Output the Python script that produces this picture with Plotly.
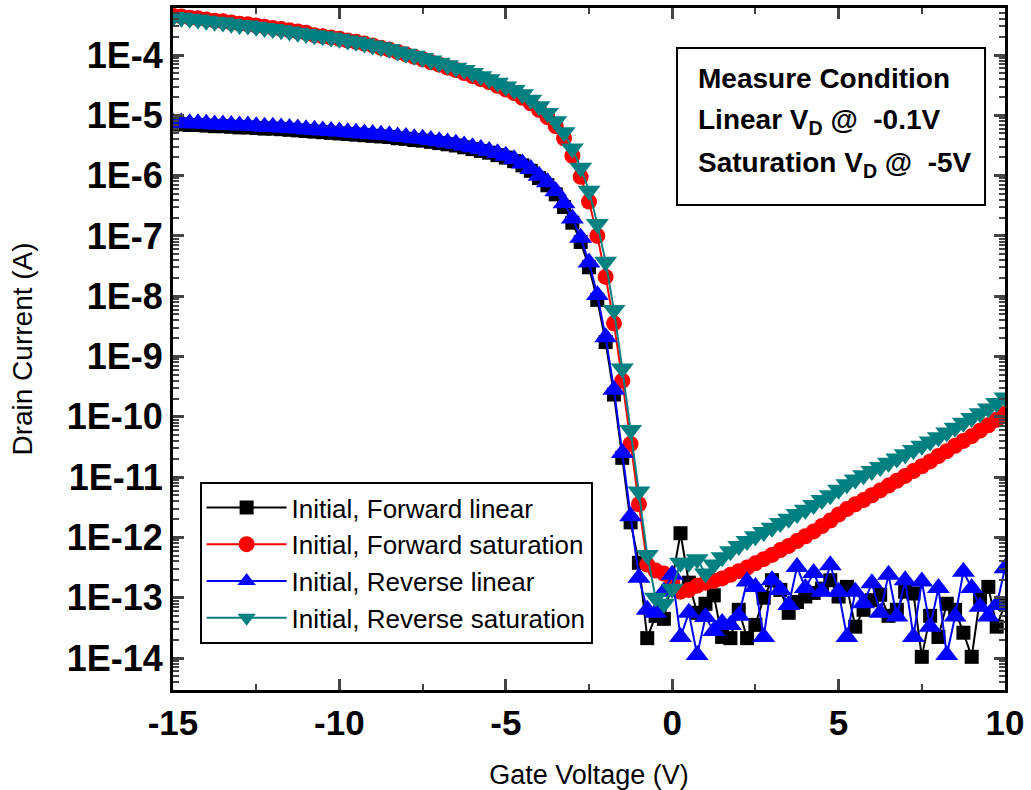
import plotly.graph_objects as go

gate_voltage = [-15, -14.75, -14.5, -14.25, -14, -13.75, -13.5, -13.25, -13, -12.75,
                -12.5, -12.25, -12, -11.75, -11.5, -11.25, -11, -10.75, -10.5, -10.25,
                -10, -9.75, -9.5, -9.25, -9, -8.75, -8.5, -8.25, -8, -7.75,
                -7.5, -7.25, -7, -6.75, -6.5, -6.25, -6, -5.75, -5.5, -5.25,
                -5, -4.75, -4.5, -4.25, -4, -3.75, -3.5, -3.25, -3, -2.75,
                -2.5, -2.25, -2, -1.75, -1.5, -1.25, -1, -0.75, -0.5, -0.25,
                0, 0.25, 0.5, 0.75, 1, 1.25, 1.5, 1.75, 2, 2.25,
                2.5, 2.75, 3, 3.25, 3.5, 3.75, 4, 4.25, 4.5, 4.75,
                5, 5.25, 5.5, 5.75, 6, 6.25, 6.5, 6.75, 7, 7.25,
                7.5, 7.75, 8, 8.25, 8.5, 8.75, 9, 9.25, 9.5, 9.75, 10]

# log10 of drain current (A)
fwd_linear_log = [
    -5.15, -5.15, -5.16, -5.16, -5.17, -5.18, -5.18, -5.19, -5.20, -5.20, -5.21, -5.22, -5.22, -5.23, -5.24, -5.25, -5.26, -5.27, -5.28, -5.29, -5.30,
    -5.31, -5.32, -5.33, -5.34, -5.35, -5.36, -5.38, -5.39, -5.41, -5.42, -5.44, -5.46, -5.48, -5.50, -5.53, -5.56, -5.59, -5.62, -5.66, -5.70,
    -5.76, -5.83, -5.92, -6.04, -6.16, -6.31, -6.52, -6.78, -7.10, -7.52, -8.06, -8.76, -9.63, -10.68, -11.75, -12.42, -13.67, -13.30, -13.35, -12.70,
    -11.93, -12.75, -13.25, -13.10, -12.96, -13.65, -13.67, -13.20, -13.67, -13.45, -13.00, -12.71, -12.87, -13.25, -13.07, -12.98, -12.92, -12.85, -12.71, -12.98,
    -12.82, -13.48, -13.20, -13.04, -12.95, -13.30, -13.20, -12.90, -12.93, -13.98, -13.30, -13.65, -13.10, -13.20, -13.58, -13.98, -13.00, -12.82, -13.48, -13.10]

fwd_saturation_log = [
    -3.35, -3.36, -3.38, -3.39, -3.41, -3.43, -3.44, -3.46, -3.48, -3.49, -3.51, -3.53, -3.55, -3.57, -3.59, -3.61, -3.63, -3.67, -3.69, -3.71, -3.73,
    -3.76, -3.78, -3.81, -3.84, -3.88, -3.91, -3.95, -3.99, -4.03, -4.07, -4.12, -4.16, -4.21, -4.25, -4.30, -4.35, -4.40, -4.45, -4.51, -4.57,
    -4.63, -4.71, -4.80, -4.91, -5.03, -5.18, -5.38, -5.67, -6.02, -6.43, -7.00, -7.68, -8.45, -9.40, -10.45, -11.45, -12.45, -12.55, -12.60, -12.75,
    -12.90, -12.87, -12.80, -12.75, -12.72, -12.68, -12.62, -12.56, -12.50, -12.43, -12.36, -12.29, -12.21, -12.14, -12.06, -11.98, -11.90, -11.81, -11.72, -11.62,
    -11.53, -11.45, -11.38, -11.30, -11.22, -11.14, -11.06, -10.98, -10.90, -10.82, -10.74, -10.65, -10.57, -10.48, -10.40, -10.32, -10.23, -10.14, -10.05, -9.95]

rev_linear_log = [
    -5.12, -5.12, -5.13, -5.13, -5.14, -5.15, -5.15, -5.16, -5.17, -5.17, -5.18, -5.19, -5.19, -5.20, -5.21, -5.22, -5.23, -5.24, -5.25, -5.26, -5.27,
    -5.28, -5.29, -5.30, -5.31, -5.32, -5.33, -5.35, -5.36, -5.38, -5.39, -5.41, -5.43, -5.45, -5.47, -5.50, -5.53, -5.56, -5.59, -5.63, -5.67,
    -5.73, -5.80, -5.89, -6.00, -6.11, -6.26, -6.46, -6.71, -7.03, -7.44, -7.98, -8.68, -9.55, -10.60, -11.65, -12.67, -13.20, -13.25, -12.90, -12.62,
    -13.65, -13.25, -13.95, -13.32, -13.55, -13.42, -13.45, -13.30, -12.73, -12.82, -13.65, -12.71, -12.87, -13.12, -12.49, -12.84, -12.59, -12.90, -12.46, -12.90,
    -13.65, -12.90, -13.09, -12.76, -13.25, -12.62, -13.31, -12.71, -13.65, -12.73, -13.48, -12.84, -13.95, -13.31, -12.57, -12.84, -13.15, -13.31, -13.12, -12.51]

rev_saturation_log = [
    -3.37, -3.38, -3.40, -3.41, -3.43, -3.45, -3.46, -3.48, -3.50, -3.51, -3.53, -3.55, -3.57, -3.59, -3.61, -3.63, -3.65, -3.67, -3.69, -3.71, -3.73,
    -3.76, -3.78, -3.81, -3.84, -3.87, -3.90, -3.94, -3.98, -4.01, -4.05, -4.09, -4.13, -4.17, -4.21, -4.25, -4.30, -4.35, -4.40, -4.46, -4.52,
    -4.58, -4.65, -4.74, -4.85, -4.96, -5.10, -5.28, -5.55, -5.87, -6.25, -6.80, -7.43, -8.23, -9.20, -10.22, -11.24, -12.29, -13.00, -13.10, -12.85,
    -12.42, -12.42, -12.36, -12.60, -12.45, -12.33, -12.23, -12.14, -12.06, -11.98, -11.91, -11.84, -11.76, -11.69, -11.61, -11.54, -11.46, -11.38, -11.30, -11.21,
    -11.12, -11.04, -10.97, -10.90, -10.83, -10.76, -10.69, -10.62, -10.55, -10.48, -10.41, -10.34, -10.26, -10.18, -10.10, -10.02, -9.94, -9.86, -9.77, -9.68]

series_names = ["Initial, Forward linear", "Initial, Forward saturation",
                "Initial, Reverse linear", "Initial, Reverse saturation"]
series_logs = [fwd_linear_log, fwd_saturation_log, rev_linear_log, rev_saturation_log]

y_tick_values = [1e-14, 1e-13, 1e-12, 1e-11, 1e-10, 1e-9, 1e-8, 1e-7, 1e-6, 1e-5, 1e-4]
y_tick_text = ["1E-14", "1E-13", "1E-12", "1E-11", "1E-10", "1E-9", "1E-8", "1E-7", "1E-6", "1E-5", "1E-4"]
x_tick_values = [-15, -10, -5, 0, 5, 10]
x_tick_text = ["-15", "-10", "-5", "0", "5", "10"]

styles = [
    dict(color="#000000", symbol="square", size=14),
    dict(color="#ff0000", symbol="circle", size=16),
    dict(color="#0000ff", symbol="triangle-up", size=20),
    dict(color="#008080", symbol="triangle-down", size=20),
]

fig = go.Figure()
for name, logs, st in zip(series_names, series_logs, styles):
    fig.add_trace(go.Scatter(
        x=gate_voltage, y=[10 ** v for v in logs], name=name, mode="lines+markers",
        line=dict(color=st["color"], width=2),
        marker=dict(symbol=st["symbol"], size=st["size"], color=st["color"], line=dict(width=0)),
        legendgroup=name,
    ))

font_main = "Liberation Sans, Arial, sans-serif"

fig.update_layout(
    width=1031, height=790,
    margin=dict(l=173, r=26, t=8, b=100, autoexpand=False),
    plot_bgcolor="white", paper_bgcolor="white",
    showlegend=True,
    legend=dict(x=0.032, y=0.305, xanchor="left", yanchor="top",
                bgcolor="white", bordercolor="black", borderwidth=2,
                font=dict(family=font_main, size=26, color="black"),
                itemwidth=80, tracegroupgap=0),
    xaxis=dict(range=[-15, 10], tickvals=x_tick_values, ticktext=x_tick_text,
               ticks="inside", ticklen=11, tickwidth=3, automargin=False,
               showline=True, linewidth=3, linecolor="black", mirror="ticks",
               showgrid=False, zeroline=False,
               minor=dict(dtick=2.5, ticks="inside", ticklen=6, tickwidth=2, showgrid=False),
               tickfont=dict(family=font_main, size=35, color="black", weight="bold"),
               title=dict(text="Gate Voltage (V)", standoff=28,
                          font=dict(family=font_main, size=27, color="black"))),
    yaxis=dict(type="log", range=[-14.53, -3.22], tickvals=y_tick_values, ticktext=y_tick_text,
               ticks="inside", ticklen=11, tickwidth=3, automargin=False,
               showline=True, linewidth=3, linecolor="black", mirror="ticks",
               showgrid=False, zeroline=False,
               minor=dict(dtick="D1", ticks="inside", ticklen=6, tickwidth=2, showgrid=False),
               tickfont=dict(family=font_main, size=36, color="black", weight="bold"),
               title=dict(text="Drain Current (A)", standoff=26,
                          font=dict(family=font_main, size=28, color="black"))),
)

fig.add_shape(type="rect", xref="paper", yref="paper", x0=0.6058, x1=0.976, y0=0.7111, y1=0.9413,
              line=dict(color="black", width=2), fillcolor="white", layer="above")
cond_lines = ["Measure Condition", "Linear V<sub>D</sub> @  -0.1V", "Saturation V<sub>D</sub> @  -5V"]
cond_y = [0.896, 0.834, 0.771]
for txt, yy in zip(cond_lines, cond_y):
    fig.add_annotation(text=txt, xref="paper", yref="paper", x=0.629, y=yy, xanchor="left", yanchor="middle",
                       showarrow=False, font=dict(family=font_main, size=28, color="black", weight="bold"))

fig.write_html("out.html")
